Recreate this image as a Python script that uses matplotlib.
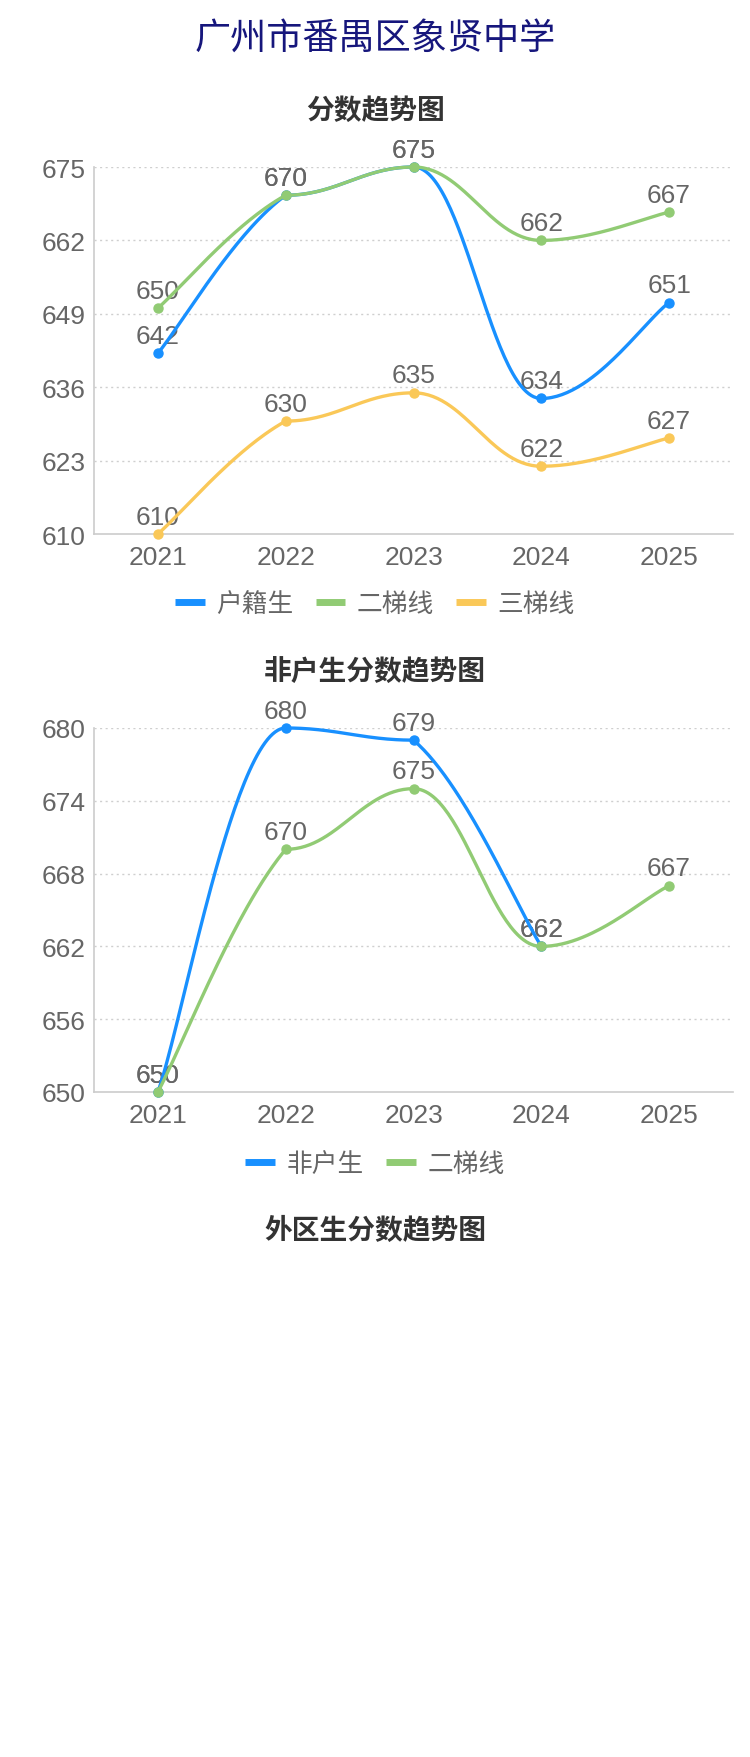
import numpy as np
import matplotlib
matplotlib.use("Agg")
import matplotlib.pyplot as plt
from matplotlib.lines import Line2D

plt.rcParams['font.family'] = ['Noto Sans CJK SC', 'DejaVu Sans']

# data
years = ['2021', '2022', '2023', '2024', '2025']

huji = [642, 670, 675, 634, 651]
er_tixian = [650, 670, 675, 662, 667]
san_tixian = [610, 630, 635, 622, 627]
ticks1 = [610, 623, 636, 649, 662, 675]

feihu = [650, 680, 679, 662, None]
er_tixian2 = [650, 670, 675, 662, 667]
ticks2 = [650, 656, 662, 668, 674, 680]

BLUE = '#1890FF'
GREEN = '#91CB74'
YELLOW = '#FAC858'
NUM_FONT = 'Liberation Sans'

W, H = 750, 1758


def control_points(pts, i):
    # uCharts style bezier control points
    a = b = 0.2
    n = len(pts)

    def not_middle(k):
        if 0 < k < n - 1:
            return pts[k][1] >= max(pts[k - 1][1], pts[k + 1][1]) or \
                pts[k][1] <= min(pts[k - 1][1], pts[k + 1][1])
        return False

    if i < 1:
        ax_ = pts[0][0] + (pts[1][0] - pts[0][0]) * a
        ay_ = pts[0][1] + (pts[1][1] - pts[0][1]) * a
    else:
        ax_ = pts[i][0] + (pts[i + 1][0] - pts[i - 1][0]) * a
        ay_ = pts[i][1] + (pts[i + 1][1] - pts[i - 1][1]) * a
    if i > n - 3:
        last = n - 1
        bx_ = pts[last][0] - (pts[last][0] - pts[last - 1][0]) * b
        by_ = pts[last][1] - (pts[last][1] - pts[last - 1][1]) * b
    else:
        bx_ = pts[i + 1][0] - (pts[i + 2][0] - pts[i][0]) * b
        by_ = pts[i + 1][1] - (pts[i + 2][1] - pts[i][1]) * b
    if not_middle(i + 1):
        by_ = pts[i + 1][1]
    if not_middle(i):
        ay_ = pts[i][1]
    lo, hi = min(pts[i][1], pts[i + 1][1]), max(pts[i][1], pts[i + 1][1])
    if ay_ >= hi or ay_ <= lo:
        ay_ = pts[i][1]
    if by_ >= hi or by_ <= lo:
        by_ = pts[i + 1][1]
    return (ax_, ay_), (bx_, by_)


def smooth(xs, ys):
    pts = [(x, y) for x, y in zip(xs, ys) if y is not None]
    t = np.linspace(0, 1, 60)
    cx, cy = [], []
    for i in range(len(pts) - 1):
        (p1x, p1y), (p2x, p2y) = control_points(pts, i)
        p0x, p0y = pts[i]
        p3x, p3y = pts[i + 1]
        bx = (1 - t) ** 3 * p0x + 3 * (1 - t) ** 2 * t * p1x + 3 * (1 - t) * t ** 2 * p2x + t ** 3 * p3x
        by = (1 - t) ** 3 * p0y + 3 * (1 - t) ** 2 * t * p1y + 3 * (1 - t) * t ** 2 * p2y + t ** 3 * p3y
        cx.extend(bx)
        cy.extend(by)
    return cx, cy


def draw_chart(ax, series, ticks):
    x = np.arange(len(years))
    for i, (name, vals, color) in enumerate(series):
        cx, cy = smooth(x, vals)
        ax.plot(cx, cy, color=color, lw=2.4, zorder=4 + i, clip_on=False,
                solid_capstyle='round')
        px = [xx for xx, v in zip(x, vals) if v is not None]
        pv = [v for v in vals if v is not None]
        ax.plot(px, pv, 'o', color=color, ms=6.5, zorder=4 + i, clip_on=False)
        for xx, v in zip(px, pv):
            ax.annotate(str(v), (xx, v), xytext=(0, 12.5), textcoords='offset points',
                        ha='center', va='center', fontsize=19, color='#666666',
                        family=NUM_FONT, zorder=3)
    ax.set_xlim(-0.5, len(years) - 0.5)
    ax.set_ylim(ticks[0], ticks[-1])
    ax.set_yticks(ticks)
    ax.set_xticks(x)
    ax.set_xticklabels(years)
    for t in ticks[1:]:
        ax.axhline(t, color='#cfcfcf', lw=1.0, ls=(0, (1.5, 2.5)), zorder=1)
    for s in ['top', 'right']:
        ax.spines[s].set_visible(False)
    for s in ['left', 'bottom']:
        ax.spines[s].set_color('#cccccc')
        ax.spines[s].set_linewidth(1.2)
    ax.tick_params(length=0, labelsize=19, labelcolor='#666666')
    ax.tick_params(axis='y', pad=6)
    ax.tick_params(axis='x', pad=8)
    for lab in ax.get_xticklabels() + ax.get_yticklabels():
        lab.set_family(NUM_FONT)
    handles = [Line2D([], [], color=c, lw=5, solid_capstyle='butt') for _, _, c in series]
    labels = [n for n, _, _ in series]
    return handles, labels


fig = plt.figure(figsize=(W / 100, H / 100), dpi=100)

fig.text(0.5, 1 - 40 / H, '广州市番禺区象贤中学', ha='center', va='center',
         fontsize=26, color='#16167c', fontweight='medium')

# chart 1
fig.text(0.5, 1 - 111 / H, '分数趋势图', ha='center', va='center',
         fontsize=20, color='#333333', fontweight='bold')
ax1 = fig.add_axes([94 / W, 1 - 535 / H, 639 / W, 367 / H])
h1, l1 = draw_chart(ax1, [('户籍生', huji, BLUE), ('二梯线', er_tixian, GREEN),
                          ('三梯线', san_tixian, YELLOW)], ticks1)
ax1.legend(h1, l1, loc='center', bbox_to_anchor=(0.5, 1 - 605 / H),
           bbox_transform=fig.transFigure, ncol=3, frameon=False,
           prop={'size': 18.5}, labelcolor='#666666', handlelength=1.16,
           handletextpad=0.45, columnspacing=0.85, borderpad=0, borderaxespad=0)

# chart 2
fig.text(0.5, 1 - 672 / H, '非户生分数趋势图', ha='center', va='center',
         fontsize=20, color='#333333', fontweight='bold')
ax2 = fig.add_axes([94 / W, 1 - 1093 / H, 639 / W, 364 / H])
h2, l2 = draw_chart(ax2, [('非户生', feihu, BLUE), ('二梯线', er_tixian2, GREEN)], ticks2)
ax2.legend(h2, l2, loc='center', bbox_to_anchor=(0.5, 1 - 1165 / H),
           bbox_transform=fig.transFigure, ncol=2, frameon=False,
           prop={'size': 18.5}, labelcolor='#666666', handlelength=1.16,
           handletextpad=0.45, columnspacing=0.85, borderpad=0, borderaxespad=0)

# chart 3 (title only, no data shown)
fig.text(0.5, 1 - 1231 / H, '外区生分数趋势图', ha='center', va='center',
         fontsize=20, color='#333333', fontweight='bold')

fig.savefig('out.png', dpi=100, facecolor='white')
